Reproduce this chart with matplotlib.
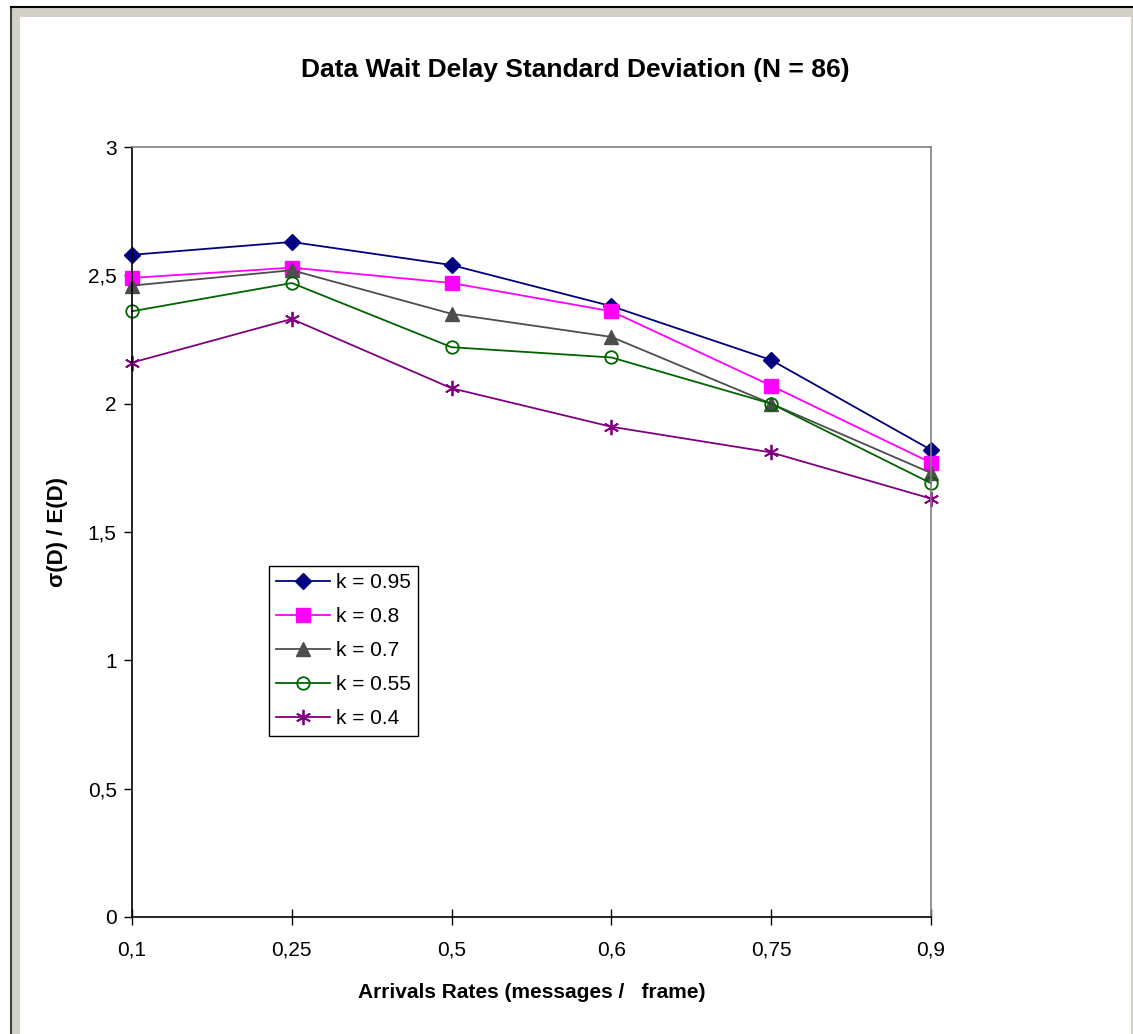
import matplotlib.pyplot as plt
from matplotlib.patches import Rectangle

plt.rcParams['font.family'] = ['Liberation Sans', 'DejaVu Sans']

# categories on the x axis (equally spaced, Excel line chart)
arrival_rates = ['0,1', '0,25', '0,5', '0,6', '0,75', '0,9']

k_095 = [2.58, 2.63, 2.54, 2.38, 2.17, 1.82]
k_080 = [2.49, 2.53, 2.47, 2.36, 2.07, 1.77]
k_070 = [2.46, 2.52, 2.35, 2.26, 2.00, 1.73]
k_055 = [2.36, 2.47, 2.22, 2.18, 2.00, 1.69]
k_040 = [2.16, 2.33, 2.06, 1.91, 1.81, 1.63]

labels = ['k = 0.95', 'k = 0.8', 'k = 0.7', 'k = 0.55', 'k = 0.4']
y_ticks = [0, 0.5, 1, 1.5, 2, 2.5, 3]
y_tick_labels = ['0', '0,5', '1', '1,5', '2', '2,5', '3']

W, H = 1133, 1034
fig = plt.figure(figsize=(W / 100, H / 100), dpi=100)
fig.patch.set_facecolor('white')

# excel-like window frame
fig.patches.append(Rectangle((11 / W, 0), (W - 11) / W, (H - 7) / H,
                             transform=fig.transFigure, facecolor='#d4d0c8',
                             edgecolor='none', zorder=-3))
fig.patches.append(Rectangle((20 / W, 0), (1131 - 20) / W, (H - 17) / H,
                             transform=fig.transFigure, facecolor='white',
                             edgecolor='none', zorder=-2))
fig.add_artist(plt.Line2D([11 / W, 11 / W], [0, (H - 7) / H], color='#404040',
                          lw=1.5, transform=fig.transFigure, zorder=-1))
fig.add_artist(plt.Line2D([11 / W, 1], [(H - 7) / H, (H - 7) / H], color='black',
                          lw=1.5, transform=fig.transFigure, zorder=-1))

ax = fig.add_axes([132 / W, 1 - 917 / H, (931 - 132) / W, (917 - 147) / H])
ax.set_facecolor('white')

x = range(len(arrival_rates))
styles = [
    (k_095, '#000080', dict(marker='D', markersize=8, markerfacecolor='#000080')),
    (k_080, '#ff00ff', dict(marker='s', markersize=10, markerfacecolor='#ff00ff')),
    (k_070, '#4d4d4d', dict(marker='^', markersize=10, markerfacecolor='#4d4d4d')),
    (k_055, '#006400', dict(marker='o', markersize=9, markerfacecolor='none',
                            markeredgewidth=1.3)),
    (k_040, '#800080', dict(marker=(6, 2, 0), markersize=11, markeredgewidth=1.3)),
]
for (vals, color, mk), label in zip(styles, labels):
    ax.plot(x, vals, color=color, lw=1.3, label=label, markeredgecolor=color,
            clip_on=False, **mk)

ax.set_xlim(0, len(arrival_rates) - 1)
ax.set_ylim(0, 3)
ax.set_xticks(list(x))
ax.set_xticklabels(arrival_rates)
ax.set_yticks(y_ticks)
ax.set_yticklabels(y_tick_labels)
ax.tick_params(axis='x', direction='inout', length=12, width=1, labelsize=15, pad=11)
ax.tick_params(axis='y', direction='out', length=6, width=1, labelsize=15, pad=5)

for side in ('top', 'right'):
    ax.spines[side].set_color('#808080')
    ax.spines[side].set_linewidth(1.2)
for side in ('left', 'bottom'):
    ax.spines[side].set_color('black')
    ax.spines[side].set_linewidth(1.2)

ax.set_xlabel('Arrivals Rates (messages /   frame)', fontsize=15, fontweight='bold',
              labelpad=17)
ax.set_ylabel('σ(D) / E(D)', fontsize=16, fontweight='bold', labelpad=14)
fig.text(575 / W, 1 - 70 / H, 'Data Wait Delay Standard Deviation (N = 86)',
         ha='center', va='center', fontsize=19, fontweight='bold')

leg = ax.legend(loc='upper left', bbox_to_anchor=((269 - 132) / (931 - 132),
                                                  (917 - 566) / (917 - 147)),
                numpoints=1, handlelength=2.6, handletextpad=0.25, fontsize=15,
                labelspacing=0.72, borderpad=0.35, fancybox=False, framealpha=1,
                edgecolor='black', borderaxespad=0)
leg.get_frame().set_linewidth(1.0)

fig.savefig('out.png', dpi=100)
